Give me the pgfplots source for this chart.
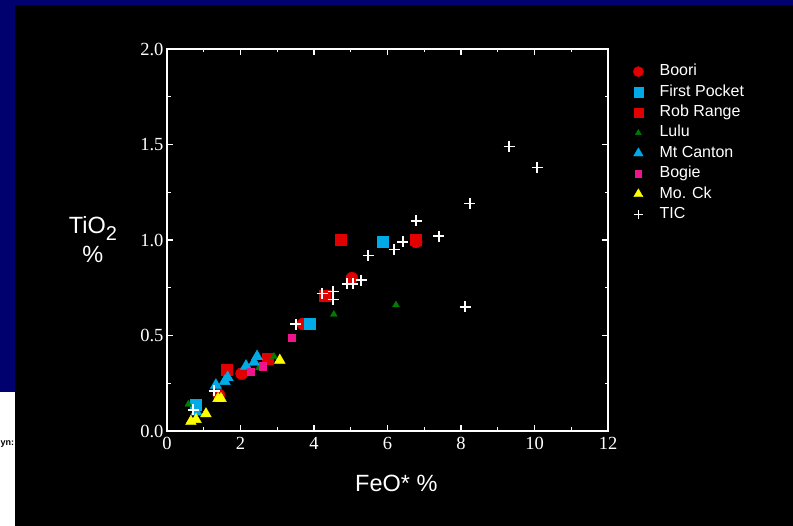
\documentclass[border=0pt]{standalone}
\usepackage{fontspec}
\setmainfont{Liberation Sans}
\newfontfamily\tickserif{Liberation Serif}
\usepackage{pgfplots}
\pgfplotsset{compat=1.18}
\definecolor{navybg}{RGB}{0,0,110}
\definecolor{cred}{RGB}{225,0,0}
\definecolor{ccyan}{RGB}{0,170,230}
\definecolor{cgreen}{RGB}{0,125,0}
\definecolor{cpink}{RGB}{240,20,140}
\definecolor{cyellow}{RGB}{255,255,0}
\begin{document}
\begin{tikzpicture}
\useasboundingbox (0,0) rectangle (793bp,526bp);
\fill[navybg] (0,0) rectangle (793bp,526bp);
\fill[white] (0,0) rectangle (15bp,134bp);
\node[anchor=west,inner sep=0pt,font=\fontsize{9bp}{10bp}\selectfont\bfseries] at (0.5bp,82bp) {yn:};
\fill[black] (15bp,0) rectangle (793bp,521bp);
\begin{axis}[
  at={(167bp,95bp)}, anchor=south west,
  scale only axis, width=441bp, height=382bp,
  xmin=0, xmax=12, ymin=0, ymax=2,
  xtick={0,2,...,12}, ytick={0,0.5,...,2},
  minor x tick num=1, minor y tick num=1,
  axis line style={white, line width=1.5bp},
  major tick style={white, line width=1.2bp},
  minor tick style={white, line width=1.2bp},
  major tick length=6bp, minor tick length=3.5bp,
  tick align=inside,
  /pgf/number format/assume math mode=true,
  tick label style={font=\fontsize{18.5bp}{20bp}\tickserif, text=white},
  yticklabel style={/pgf/number format/.cd, fixed, fixed zerofill, precision=1},
  xticklabel style={yshift=-3bp},
  every axis x label/.style={at={(axis description cs:0.52,-0.138)}, anchor=center, text=white, font=\fontsize{23.5bp}{25bp}\selectfont},
  every axis y label/.style={at={(axis description cs:-0.168,0.5)}, anchor=center, align=center, text=white, font=\fontsize{23.5bp}{29bp}\selectfont},
  xlabel={FeO* \%},
  ylabel={TiO\raisebox{-7bp}{\fontsize{20bp}{21bp}\selectfont 2}\\\%},
  legend style={at={(rel axis cs:1,1)}, anchor=north west, xshift=21bp, yshift=-12bp,
    draw=none, fill=none, text=white, font=\fontsize{16bp}{17bp}\selectfont,
    nodes={inner sep=1bp, text height=11.5bp, text depth=3.5bp},
    row sep=3.4bp, column sep=14bp},
  legend cell align=left,
  legend image code/.code={\path (-6bp,0) (6bp,0); \draw[#1,/tikz/every mark/.append style={scale=0.85}] plot coordinates {(0cm,0cm)};},
]
\addplot[only marks, mark=*, mark size=6bp, cred, mark options={draw=cred, fill=cred}] coordinates {
(1.41,0.19) (2.03,0.30) (3.70,0.56) (5.03,0.80) (6.78,0.99)};
\addlegendentry{Boori}
\addplot[only marks, mark=square*, mark size=5.5bp, ccyan, mark options={draw=ccyan, fill=ccyan}] coordinates {
(0.79,0.14) (3.89,0.56) (5.88,0.99)};
\addlegendentry{First Pocket}
\addplot[only marks, mark=square*, mark size=5.5bp, cred, mark options={draw=cred, fill=cred}] coordinates {
(1.63,0.32) (2.75,0.38) (4.30,0.71) (4.73,1.00) (6.78,1.00)};
\addlegendentry{Rob Range}
\addplot[only marks, mark=triangle*, mark size=4bp, cgreen, mark options={draw=cgreen, fill=cgreen}] coordinates {
(0.58,0.14) (2.50,0.33) (2.91,0.39) (4.54,0.61) (6.23,0.66)};
\addlegendentry{Lulu}
\addplot[only marks, mark=triangle*, mark size=6.5bp, ccyan, mark options={draw=ccyan, fill=ccyan}] coordinates {
(0.80,0.10) (1.33,0.24) (1.57,0.26) (1.65,0.28) (2.15,0.34) (2.37,0.36) (2.45,0.39)};
\addlegendentry{Mt Canton}
\addplot[only marks, mark=square*, mark size=3.7bp, cpink, mark options={draw=cpink, fill=cpink}] coordinates {
(2.28,0.31) (2.61,0.34) (3.40,0.49)};
\addlegendentry{Bogie}
\addplot[only marks, mark=triangle*, mark size=6.2bp, cyellow, mark options={draw=cyellow, fill=cyellow}] coordinates {
(0.65,0.05) (0.79,0.06) (1.06,0.09) (1.39,0.17) (1.47,0.17) (3.07,0.37)};
\addlegendentry{Mo. Ck}
\addplot[only marks, mark=+, mark size=5.5bp, white, mark options={draw=white, line width=1.4bp}] coordinates {
(0.71,0.11) (1.28,0.21) (3.51,0.56) (4.22,0.72) (4.52,0.73) (4.52,0.69) (4.90,0.77) (5.06,0.77) (5.28,0.79) (5.47,0.92) (6.18,0.95) (6.42,0.99) (6.78,1.10) (7.40,1.02) (8.24,1.19) (8.11,0.65) (9.31,1.49) (10.07,1.38)};
\addlegendentry{TIC}
\end{axis}
\end{tikzpicture}
\end{document}
